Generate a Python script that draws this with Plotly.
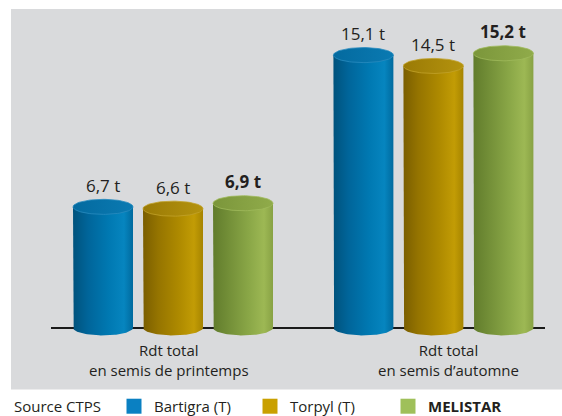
import numpy as np
import plotly.graph_objects as go

# ---------------- data ----------------
categories = ["Rdt total\nen semis de printemps", "Rdt total\nen semis d’automne"]
series_names = ["Bartigra (T)", "Torpyl (T)", "MELISTAR"]
bartigra = [6.7, 15.1]
torpyl = [6.6, 14.5]
melistar = [6.9, 15.2]
source_text = "Source CTPS"

# ---------------- styles / layout constants ----------------
# The page viewport is slightly taller than the final picture, which gets
# squeezed vertically; design on a 423px-tall canvas and map picture rows.
W, H = 562, 423
KV = 422.5 / 416.0          # picture row -> canvas row
TXT = "#231f20"
FONT = "Open Sans"
PANEL = "#d9dadc"

body_scales = [
    [[0, "#00527c"], [0.25, "#00659a"], [0.6, "#0079b2"], [0.85, "#0685bf"], [1, "#006a9e"]],
    [[0, "#7a5e00"], [0.25, "#957400"], [0.6, "#ae8a00"], [0.85, "#c29c05"], [1, "#a68400"]],
    [[0, "#617c2c"], [0.25, "#728e37"], [0.6, "#8aa747"], [0.85, "#9db854"], [1, "#88a244"]],
]
cap_scales = [
    [[0, "#046a9f"], [1, "#0a7ab2"]],
    [[0, "#9a7a05"], [1, "#b4930e"]],
    [[0, "#7b963b"], [1, "#90ab4a"]],
]
cap_lines = ["#2a8cbf", "#c2a22a", "#a0ba5c"]
legend_colors = ["#0a80c2", "#c9a000", "#9fc05a"]


def fx(px):  # picture x pixel -> paper fraction
    return px / W


def fy(py):  # picture y pixel (from top) -> paper fraction
    return (H - py * KV) / H


X_DOMAIN = [fx(51), fx(545)]
UNIT_PX = 70.0
X_RANGE = [(51 - 173) / UNIT_PX, (545 - 173) / UNIT_PX]
GROUP_X = [0.0, 3.72]
SERIES_OFF = [-1.0, 0.0, 1.0]
LABEL_X = [-0.06, 3.93]
R = 30 / UNIT_PX

B = 18.0 * KV             # canvas px per tonne
BASE_PX = 326.7 * KV      # canvas row of value 0
Y_RANGE = [-(H - BASE_PX) / B, BASE_PX / B]
KY = 7.5 * KV / B         # ellipse half-height in data units

fig = go.Figure()

all_series = [bartigra, torpyl, melistar]
theta_bot = np.linspace(np.pi, 2 * np.pi, 60)
theta_full = np.linspace(0, 2 * np.pi, 90)

annotations = []
for s, vals in enumerate(all_series):
    for g, v in enumerate(vals):
        c = GROUP_X[g] + SERIES_OFF[s]
        xs = [c - R, c - R] + list(c + R * np.cos(theta_bot)) + [c + R, c + R]
        ys = [v, 0] + list(KY * np.sin(theta_bot)) + [0, v]
        fig.add_trace(go.Scatter(
            x=xs, y=ys, mode="lines", fill="toself",
            line=dict(width=0, color="rgba(0,0,0,0)"),
            fillgradient=dict(type="horizontal", colorscale=body_scales[s]),
            showlegend=False, hoverinfo="skip"))
        fig.add_trace(go.Scatter(
            x=list(c + R * np.cos(theta_full)), y=list(v + KY * np.sin(theta_full)),
            mode="lines", fill="toself",
            line=dict(width=0.8, color=cap_lines[s]),
            fillgradient=dict(type="horizontal", colorscale=cap_scales[s]),
            showlegend=False, hoverinfo="skip"))
        label = f"{v:.1f}".replace(".", ",") + " t"
        if s == 2:
            label = f"<b>{label}</b>"
        annotations.append(dict(
            x=c, y=v, xref="x", yref="y", text=label, showarrow=False,
            yanchor="bottom", yshift=8 * KV,
            font=dict(family=FONT, size=17, color=TXT)))

# category labels
for g, cat in enumerate(categories):
    annotations.append(dict(
        x=LABEL_X[g], y=0, xref="x", yref="y", text=cat.replace("\n", "<br>"),
        showarrow=False, yanchor="middle", yshift=-(358 - 326.7) * KV,
        font=dict(family=FONT, size=15, color=TXT)))

annotations.append(dict(
    x=fx(12), y=fy(405), xref="paper", yref="paper", text=source_text,
    showarrow=False, xanchor="left", yanchor="middle",
    font=dict(family=FONT, size=15, color=TXT)))

legend_ids = ["legend", "legend2", "legend3"]
legend_x = [fx(114), fx(250), fx(388)]
for s, name in enumerate(series_names):
    nm = f"<b>{name}</b>" if s == 2 else name
    fig.add_trace(go.Scatter(
        x=[None], y=[None], mode="markers", name=nm,
        marker=dict(symbol="square", size=15, color=legend_colors[s]),
        legend=legend_ids[s], showlegend=True, hoverinfo="skip"))

legend_common = dict(orientation="h", yanchor="middle", y=fy(405),
                     xanchor="left", bgcolor="rgba(0,0,0,0)", borderwidth=0,
                     font=dict(family=FONT, size=15, color=TXT))

fig.update_layout(
    width=W, height=H,
    margin=dict(l=0, r=0, t=0, b=0),
    paper_bgcolor="white", plot_bgcolor="rgba(0,0,0,0)",
    xaxis=dict(domain=X_DOMAIN, range=X_RANGE, visible=False, fixedrange=True),
    yaxis=dict(domain=[0, 1], range=Y_RANGE, visible=False, fixedrange=True),
    annotations=annotations,
    shapes=[
        dict(type="rect", xref="paper", yref="paper",
             x0=fx(11), x1=1, y0=fy(388), y1=fy(9),
             fillcolor=PANEL, line=dict(width=0), layer="below"),
        dict(type="line", xref="x domain", yref="y", x0=0, x1=1, y0=0, y1=0,
             line=dict(color="#1a1a1a", width=2), layer="below"),
    ],
    legend=dict(x=legend_x[0], **legend_common),
    legend2=dict(x=legend_x[1], **legend_common),
    legend3=dict(x=legend_x[2], **legend_common),
    hovermode=False,
)

fig.write_html(
    "out.html",
    config={"displayModeBar": False},
    post_script="document.body.style.margin='0';"
                "document.documentElement.style.overflow='hidden';"
                "document.body.style.overflow='hidden';",
)
